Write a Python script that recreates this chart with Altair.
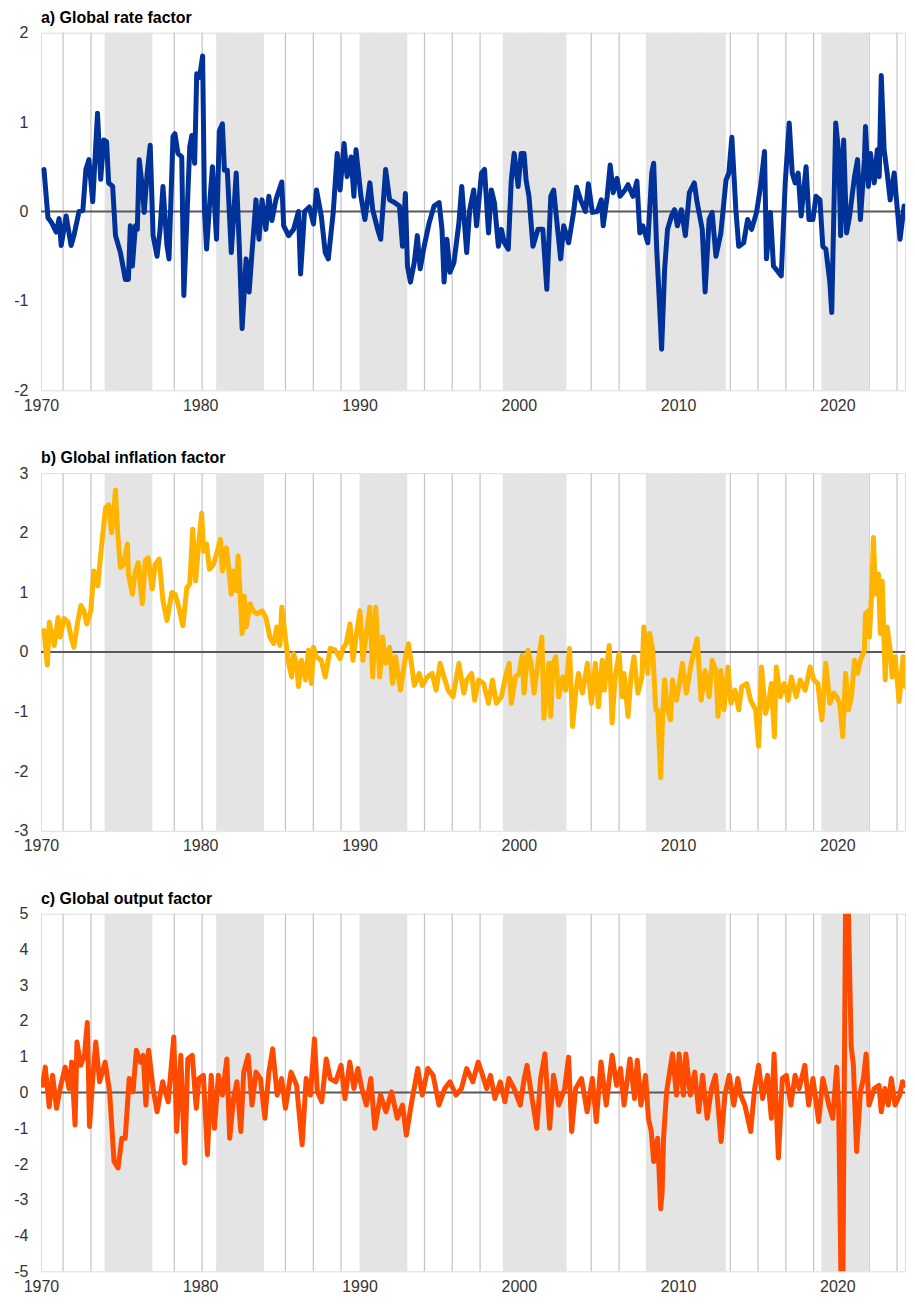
import altair as alt
import pandas as pd

# ---------------- data ----------------
rate_points = [(1970.19,0.47),(1970.44,-0.07),(1970.65,-0.12),(1970.96,-0.23),(1971.14,-0.08),(1971.27,-0.38),(1971.58,-0.05),(1971.89,-0.38),(1972.07,-0.27),(1972.39,0.0),(1972.63,0.01),(1972.82,0.47),(1973.01,0.58),(1973.25,0.11),(1973.55,1.1),(1973.75,0.36),(1973.94,0.80),(1974.12,0.78),(1974.25,0.32),(1974.50,0.28),(1974.68,-0.27),(1974.99,-0.46),(1975.30,-0.76),(1975.49,-0.76),(1975.61,-0.16),(1975.74,-0.61),(1975.93,-0.16),(1976.05,-0.2),(1976.17,0.58),(1976.36,0.28),(1976.48,-0.01),(1976.67,0.43),(1976.86,0.74),(1977.04,-0.27),(1977.29,-0.5),(1977.48,-0.2),(1977.66,0.28),(1977.91,-0.38),(1978.04,-0.53),(1978.29,0.84),(1978.41,0.87),(1978.60,0.65),(1978.84,0.61),(1978.97,-0.94),(1979.16,-0.09),(1979.34,0.72),(1979.47,0.85),(1979.65,0.54),(1979.78,1.54),(1979.96,1.5),(1980.15,1.74),(1980.27,0.0),(1980.40,-0.42),(1980.58,0.06),(1980.77,0.5),(1981.02,-0.31),(1981.20,0.9),(1981.39,0.98),(1981.52,0.46),(1981.70,0.46),(1981.95,-0.46),(1982.26,0.43),(1982.45,-0.38),(1982.63,-1.31),(1982.88,-0.53),(1983.07,-0.9),(1983.25,-0.46),(1983.50,0.13),(1983.69,-0.31),(1983.88,0.13),(1984.12,-0.2),(1984.31,0.17),(1984.50,-0.1),(1984.75,0.13),(1985.12,0.33),(1985.24,-0.16),(1985.55,-0.27),(1985.86,-0.2),(1986.17,0.0),(1986.30,-0.7),(1986.55,0.0),(1986.85,0.05),(1987.11,-0.14),(1987.30,0.24),(1987.60,-0.05),(1987.85,-0.46),(1988.04,-0.53),(1988.35,-0.01),(1988.60,0.65),(1988.78,0.24),(1989.03,0.76),(1989.22,0.39),(1989.47,0.61),(1989.65,0.17),(1989.78,0.69),(1990.09,0.17),(1990.34,-0.09),(1990.65,0.32),(1990.83,0.02),(1991.14,-0.2),(1991.33,-0.31),(1991.64,0.47),(1991.89,0.13),(1992.20,0.1),(1992.51,0.06),(1992.70,-0.39),(1992.88,0.2),(1993.01,-0.61),(1993.20,-0.79),(1993.44,-0.57),(1993.63,-0.27),(1993.81,-0.64),(1994.06,-0.39),(1994.37,-0.13),(1994.68,0.06),(1995.00,0.1),(1995.18,-0.2),(1995.31,-0.79),(1995.49,-0.31),(1995.68,-0.68),(1995.93,-0.57),(1996.24,-0.13),(1996.42,0.28),(1996.73,-0.46),(1996.92,0.02),(1997.17,0.24),(1997.35,-0.16),(1997.66,0.43),(1997.85,0.47),(1998.10,-0.24),(1998.28,0.24),(1998.47,0.1),(1998.72,-0.39),(1998.91,-0.2),(1999.09,-0.35),(1999.34,-0.42),(1999.53,0.35),(1999.71,0.65),(1999.96,0.28),(2000.15,0.65),(2000.33,0.65),(2000.46,0.35),(2000.64,0.17),(2000.89,-0.39),(2001.20,-0.2),(2001.51,-0.2),(2001.76,-0.87),(2002.01,0.17),(2002.19,0.24),(2002.44,-0.2),(2002.63,-0.53),(2002.82,-0.16),(2003.13,-0.35),(2003.44,-0.01),(2003.63,0.27),(2003.88,0.13),(2004.19,0.0),(2004.37,0.31),(2004.62,-0.01),(2004.93,0.0),(2005.18,0.13),(2005.30,-0.16),(2005.55,0.17),(2005.74,0.52),(2005.93,0.21),(2006.17,0.37),(2006.36,0.17),(2006.67,0.24),(2006.86,0.30),(2007.17,0.17),(2007.42,0.34),(2007.60,-0.24),(2007.79,-0.16),(2008.10,-0.35),(2008.35,0.43),(2008.47,0.54),(2008.66,-0.42),(2008.84,-1.05),(2008.97,-1.54),(2009.16,-0.64),(2009.34,-0.2),(2009.59,-0.05),(2009.78,0.02),(2009.96,-0.16),(2010.21,0.02),(2010.46,-0.27),(2010.71,0.21),(2011.02,0.32),(2011.20,0.1),(2011.52,-0.2),(2011.70,-0.9),(2011.95,-0.09),(2012.14,-0.01),(2012.38,-0.5),(2012.69,-0.24),(2013.01,0.35),(2013.19,0.43),(2013.38,0.83),(2013.63,0.02),(2013.81,-0.39),(2014.12,-0.35),(2014.37,-0.09),(2014.62,-0.2),(2014.93,-0.01),(2015.18,0.28),(2015.43,0.67),(2015.55,-0.53),(2015.80,-0.01),(2015.99,-0.61),(2016.30,-0.68),(2016.48,-0.72),(2016.73,0.32),(2016.98,0.99),(2017.17,0.43),(2017.35,0.32),(2017.54,0.43),(2017.73,-0.05),(2018.04,0.50),(2018.22,-0.09),(2018.47,-0.09),(2018.66,0.17),(2018.91,0.13),(2019.09,-0.39),(2019.28,-0.42),(2019.53,-0.79),(2019.65,-1.13),(2019.90,0.99),(2020.09,0.65),(2020.21,-0.27),(2020.40,0.8),(2020.58,-0.24),(2020.77,-0.05),(2021.08,0.39),(2021.27,0.58),(2021.45,-0.09),(2021.70,0.58),(2021.77,0.95),(2021.95,0.28),(2022.08,0.65),(2022.32,0.32),(2022.51,0.69),(2022.63,0.39),(2022.76,1.52),(2022.94,0.69),(2023.13,0.43),(2023.32,0.13),(2023.57,0.43),(2023.75,0.06),(2023.94,-0.31),(2024.19,0.06)]

inflation_points = [(1970.19,0.36),(1970.40,-0.22),(1970.52,0.5),(1970.83,0.11),(1971.08,0.58),(1971.20,0.25),(1971.45,0.56),(1971.70,0.5),(1971.89,0.25),(1972.07,0.08),(1972.32,0.53),(1972.51,0.78),(1972.70,0.69),(1972.88,0.47),(1973.13,0.69),(1973.32,1.36),(1973.57,1.11),(1973.69,1.47),(1973.88,1.97),(1974.06,2.42),(1974.25,2.47),(1974.43,2.0),(1974.56,2.33),(1974.68,2.72),(1974.81,2.03),(1974.99,1.42),(1975.18,1.47),(1975.43,1.81),(1975.49,1.31),(1975.74,0.97),(1975.93,1.36),(1976.11,1.5),(1976.36,0.81),(1976.55,1.53),(1976.73,1.58),(1976.98,1.06),(1977.17,1.47),(1977.42,1.56),(1977.66,0.86),(1977.91,0.53),(1978.22,1.0),(1978.41,0.97),(1978.60,0.81),(1978.91,0.44),(1979.16,1.08),(1979.34,1.14),(1979.53,2.06),(1979.71,1.19),(1979.90,1.81),(1980.09,2.33),(1980.21,1.69),(1980.40,1.81),(1980.58,1.39),(1980.83,1.47),(1981.02,1.64),(1981.27,1.89),(1981.39,1.36),(1981.64,1.75),(1981.76,1.47),(1981.95,0.97),(1982.07,1.36),(1982.26,1.03),(1982.38,1.61),(1982.63,0.31),(1982.76,0.94),(1982.88,0.42),(1983.13,0.81),(1983.32,0.69),(1983.56,0.64),(1983.88,0.69),(1984.12,0.58),(1984.37,0.25),(1984.62,0.14),(1984.81,0.42),(1985.00,0.11),(1985.12,0.75),(1985.37,0.19),(1985.55,-0.19),(1985.74,-0.42),(1985.86,-0.03),(1986.05,-0.19),(1986.17,-0.58),(1986.36,-0.14),(1986.61,-0.47),(1986.80,0.03),(1986.98,-0.53),(1987.11,0.08),(1987.29,-0.08),(1987.60,-0.14),(1987.85,-0.42),(1988.16,0.06),(1988.47,0.03),(1988.78,-0.11),(1988.97,0.06),(1989.16,0.14),(1989.40,0.47),(1989.59,-0.14),(1989.78,0.25),(1990.03,0.69),(1990.21,-0.14),(1990.40,0.25),(1990.65,0.75),(1990.83,-0.42),(1991.02,0.75),(1991.27,-0.42),(1991.45,0.25),(1991.64,-0.19),(1991.89,0.08),(1992.07,-0.53),(1992.26,-0.08),(1992.57,-0.64),(1992.82,-0.19),(1993.07,0.14),(1993.26,-0.19),(1993.44,-0.56),(1993.75,-0.36),(1993.94,-0.56),(1994.25,-0.42),(1994.56,-0.36),(1994.81,-0.64),(1995.06,-0.19),(1995.31,-0.42),(1995.56,-0.64),(1995.87,-0.75),(1996.24,-0.19),(1996.55,-0.69),(1996.73,-0.47),(1997.04,-0.36),(1997.23,-0.81),(1997.48,-0.47),(1997.79,-0.53),(1998.10,-0.86),(1998.35,-0.47),(1998.59,-0.86),(1998.91,-0.75),(1999.16,-0.42),(1999.40,-0.19),(1999.53,-0.86),(1999.78,-0.42),(2000.02,-0.36),(2000.21,-0.06),(2000.33,-0.69),(2000.58,0.03),(2000.77,-0.19),(2000.96,-0.69),(2001.20,-0.19),(2001.45,0.25),(2001.58,-1.11),(2001.89,-0.19),(2002.01,-1.08),(2002.14,-0.19),(2002.32,-0.08),(2002.51,-0.75),(2002.76,-0.42),(2002.94,-0.64),(2003.19,0.06),(2003.38,-1.25),(2003.57,-0.69),(2003.75,-0.36),(2004.00,-0.69),(2004.31,-0.19),(2004.56,-0.86),(2004.81,-0.19),(2005.00,-0.92),(2005.24,-0.14),(2005.37,-0.64),(2005.55,-0.19),(2005.68,0.11),(2005.86,-1.19),(2006.05,-0.42),(2006.30,-0.03),(2006.48,-0.75),(2006.61,-0.36),(2006.86,-1.08),(2007.04,-0.42),(2007.23,-0.08),(2007.48,-0.69),(2007.73,-0.42),(2007.85,0.42),(2008.10,-0.36),(2008.22,0.31),(2008.41,0.03),(2008.60,-0.97),(2008.72,-0.97),(2008.91,-2.11),(2009.03,-1.08),(2009.16,-0.47),(2009.34,-0.97),(2009.53,-1.14),(2009.65,-0.47),(2009.90,-0.81),(2010.09,-0.53),(2010.27,-0.19),(2010.52,-0.69),(2010.83,-0.19),(2011.02,0.03),(2011.20,0.22),(2011.45,-0.81),(2011.70,-0.31),(2011.95,-0.75),(2012.14,-0.14),(2012.38,-0.31),(2012.51,-1.08),(2012.69,-0.31),(2012.88,-0.97),(2013.13,-0.25),(2013.32,-0.86),(2013.57,-0.64),(2013.81,-0.97),(2014.00,-0.58),(2014.31,-0.53),(2014.56,-0.81),(2014.87,-0.97),(2015.06,-1.58),(2015.24,-0.25),(2015.49,-1.03),(2015.68,-0.86),(2015.86,-0.53),(2016.05,-1.42),(2016.17,-0.25),(2016.42,-0.75),(2016.67,-0.53),(2016.92,-0.81),(2017.11,-0.42),(2017.42,-0.75),(2017.67,-0.47),(2017.98,-0.64),(2018.29,-0.25),(2018.53,-0.47),(2018.78,-0.53),(2019.03,-1.14),(2019.28,-0.19),(2019.53,-0.86),(2019.78,-0.69),(2019.96,-0.75),(2020.15,-0.86),(2020.34,-1.42),(2020.52,-0.36),(2020.71,-0.97),(2020.89,-0.75),(2021.08,-0.14),(2021.27,-0.36),(2021.45,-0.14),(2021.70,0.03),(2021.77,0.64),(2021.95,0.69),(2022.02,0.25),(2022.14,0.92),(2022.27,1.92),(2022.39,0.97),(2022.58,1.31),(2022.70,0.31),(2022.82,1.19),(2023.01,-0.47),(2023.13,0.42),(2023.32,0.03),(2023.44,-0.42),(2023.63,-0.08),(2023.88,-0.83),(2024.13,-0.08),(2024.25,-0.58)]

output_points = [(1970.11,0.2),(1970.27,0.71),(1970.52,-0.4),(1970.73,0.48),(1970.98,-0.44),(1971.20,0.11),(1971.52,0.71),(1971.76,0.11),(1971.93,0.85),(1972.14,-0.91),(1972.26,1.41),(1972.49,0.76),(1972.73,1.04),(1972.91,1.96),(1973.05,-0.95),(1973.25,0.39),(1973.44,1.41),(1973.68,0.3),(1974.03,0.85),(1974.31,0.02),(1974.59,-1.93),(1974.84,-2.11),(1975.08,-1.28),(1975.29,-1.28),(1975.54,0.39),(1975.78,0.02),(1975.99,1.18),(1976.24,0.85),(1976.42,1.04),(1976.59,-0.35),(1976.76,1.18),(1977.04,0.11),(1977.29,-0.54),(1977.64,0.3),(1977.99,-0.26),(1978.34,1.55),(1978.52,-1.09),(1978.78,1.04),(1979.03,-1.97),(1979.22,0.94),(1979.50,1.04),(1979.75,-0.44),(1979.92,0.39),(1980.20,0.48),(1980.45,-1.74),(1980.69,0.48),(1980.89,-1.0),(1981.14,0.48),(1981.39,-0.07),(1981.67,0.94),(1981.85,-1.28),(1982.09,-0.17),(1982.30,0.3),(1982.55,-1.09),(1982.73,0.57),(1983.01,1.04),(1983.25,-0.35),(1983.50,0.57),(1983.78,0.39),(1984.06,-0.72),(1984.31,0.57),(1984.55,1.22),(1984.83,-0.07),(1985.11,0.39),(1985.35,-0.44),(1985.70,0.57),(1986.05,0.2),(1986.40,-1.46),(1986.65,0.39),(1986.92,-0.07),(1987.17,1.5),(1987.35,0.02),(1987.63,-0.26),(1987.91,0.94),(1988.16,0.39),(1988.51,0.3),(1988.84,0.76),(1989.09,-0.17),(1989.39,0.85),(1989.65,0.11),(1989.90,0.67),(1990.15,0.11),(1990.43,-0.35),(1990.71,0.39),(1990.96,-1.0),(1991.32,-0.07),(1991.66,-0.54),(1992.01,0.02),(1992.37,-0.72),(1992.70,-0.35),(1992.94,-1.19),(1993.24,-0.35),(1993.66,0.67),(1993.94,-0.07),(1994.29,0.67),(1994.62,0.48),(1994.99,-0.35),(1995.35,0.11),(1995.68,0.3),(1996.05,-0.07),(1996.40,0.11),(1996.73,0.67),(1997.11,0.3),(1997.45,0.85),(1997.73,0.48),(1997.98,0.11),(1998.22,0.48),(1998.50,-0.17),(1998.84,0.3),(1999.13,-0.26),(1999.38,0.39),(1999.71,0.11),(2000.09,-0.35),(2000.34,0.39),(2000.52,0.76),(2000.77,0.02),(2001.13,-1.0),(2001.37,0.39),(2001.64,1.08),(2001.94,-1.0),(2002.18,0.48),(2002.51,-0.35),(2002.88,0.11),(2003.13,0.99),(2003.32,-1.09),(2003.57,0.11),(2003.94,0.39),(2004.29,-0.54),(2004.62,0.39),(2004.87,-0.81),(2005.16,0.85),(2005.49,-0.35),(2005.86,1.04),(2006.14,0.2),(2006.39,0.67),(2006.61,-0.35),(2006.98,0.94),(2007.27,-0.17),(2007.44,0.9),(2007.67,-0.35),(2007.96,0.48),(2008.14,-0.72),(2008.32,-1.09),(2008.47,-1.93),(2008.72,-1.28),(2008.91,-3.25),(2009.00,-2.8),(2009.09,-1.28),(2009.28,0.02),(2009.65,1.08),(2009.90,-0.07),(2010.07,1.08),(2010.34,-0.07),(2010.49,1.08),(2010.77,-0.07),(2011.05,0.57),(2011.30,-0.54),(2011.54,0.48),(2011.83,-0.72),(2012.10,0.11),(2012.35,0.48),(2012.70,-1.37),(2012.94,-0.07),(2013.22,0.48),(2013.50,-0.35),(2013.75,0.39),(2013.93,-0.07),(2014.19,-0.35),(2014.56,-1.09),(2014.81,0.11),(2015.06,0.76),(2015.31,-0.17),(2015.62,0.48),(2015.86,-0.72),(2016.03,1.08),(2016.30,-1.83),(2016.55,0.39),(2016.80,0.48),(2017.08,-0.35),(2017.35,0.48),(2017.60,0.11),(2017.96,0.76),(2018.20,-0.35),(2018.47,0.39),(2018.83,-0.81),(2019.09,0.39),(2019.47,-0.35),(2019.71,-0.72),(2019.96,0.71),(2020.09,-0.5),(2020.31,-8.0),(2020.56,8.0),(2020.87,1.31),(2021.01,0.76),(2021.21,-1.65),(2021.45,0.02),(2021.64,0.39),(2021.81,1.08),(2021.99,-0.35),(2022.32,0.11),(2022.62,0.2),(2022.76,-0.54),(2022.98,0.11),(2023.20,-0.35),(2023.39,0.39),(2023.63,-0.35),(2023.92,-0.07),(2024.09,0.3),(2024.25,0.2)]

# shaded periods (start year, end year)
band_start = [1974, 1981, 1990, 1999, 2008, 2019]
band_end = [1977, 1984, 1993, 2003, 2013, 2022]

# vertical gridline positions (years) and decade labels
grid_years = [1971.39, 1973.14, 1974.88, 1976.63, 1978.37, 1980.12, 1981.86, 1983.61,
              1985.35, 1987.10, 1988.84, 1990.59, 1992.33, 1994.08, 1995.82, 1997.57,
              1999.31, 2001.06, 2002.80, 2004.55, 2006.30, 2008.04, 2009.79, 2011.53,
              2013.28, 2015.02, 2016.77, 2018.51, 2020.26, 2022.00, 2023.75]
decades = [1970, 1980, 1990, 2000, 2010, 2020]

panels = [
    ("a) Global rate factor", rate_points, "#003299", -2, 2),
    ("b) Global inflation factor", inflation_points, "#FFB400", -3, 3),
    ("c) Global output factor", output_points, "#FF4B00", -5, 5),
]

# ---------------- chart ----------------
W, H = 865, 358
FONT = "Liberation Sans"
X_DOMAIN = [1970, 2024.25]

bands_df = pd.DataFrame({"start": band_start, "end": band_end})
grid_df = pd.DataFrame({"g": grid_years})
zero_df = pd.DataFrame({"z": [0]})


def xaxis():
    return alt.Axis(values=decades, format="d", title=None, grid=False, ticks=False,
                    domain=False, labelFontSize=16, labelPadding=7, labelColor="#333333",
                    labelFont=FONT, labelFlush=False)


def make_panel(title, pts, color, ymin, ymax):
    df = pd.DataFrame(pts, columns=["year", "value"])
    xs = alt.Scale(domain=X_DOMAIN, nice=False, zero=False)
    ys = alt.Scale(domain=[ymin, ymax], nice=False, zero=False)
    yaxis = alt.Axis(values=list(range(ymin, ymax + 1)), title=None, grid=False, ticks=False,
                     domain=False, labelFontSize=16, labelPadding=13, labelColor="#333333",
                     labelFont=FONT, labelExpr="toString(datum.value)")

    grid = alt.Chart(grid_df).mark_rule(color="#c3c3c3", strokeWidth=1.2).encode(
        x=alt.X("g:Q", scale=xs, axis=xaxis()), y=alt.value(0), y2=alt.value(H))
    shade = alt.Chart(bands_df).mark_rect(color="#e4e4e4").encode(
        x=alt.X("start:Q", scale=xs, axis=xaxis()), x2="end:Q",
        y=alt.value(0), y2=alt.value(H))
    zero = alt.Chart(zero_df).mark_rule(color="#595959", strokeWidth=2).encode(
        y=alt.Y("z:Q", scale=ys, axis=yaxis))
    line = alt.Chart(df).mark_line(color=color, strokeWidth=5, clip=True,
                                   strokeJoin="round", strokeCap="round").encode(
        x=alt.X("year:Q", scale=xs, axis=xaxis()),
        y=alt.Y("value:Q", scale=ys, axis=yaxis))

    return alt.layer(grid, shade, zero, line).properties(
        width=W, height=H,
        title=alt.TitleParams(title, anchor="start", frame="group", fontSize=16,
                              font=FONT, fontWeight="bold", color="#000000", offset=-1))


chart = alt.vconcat(*[make_panel(*p) for p in panels], spacing=35).properties(
    padding={"left": 5, "top": 0, "right": 0, "bottom": 0}
).configure_view(stroke="#c8c8c8", strokeWidth=1).configure(background="white")

chart.save("out.html", embed_options={"renderer": "svg", "actions": False})
